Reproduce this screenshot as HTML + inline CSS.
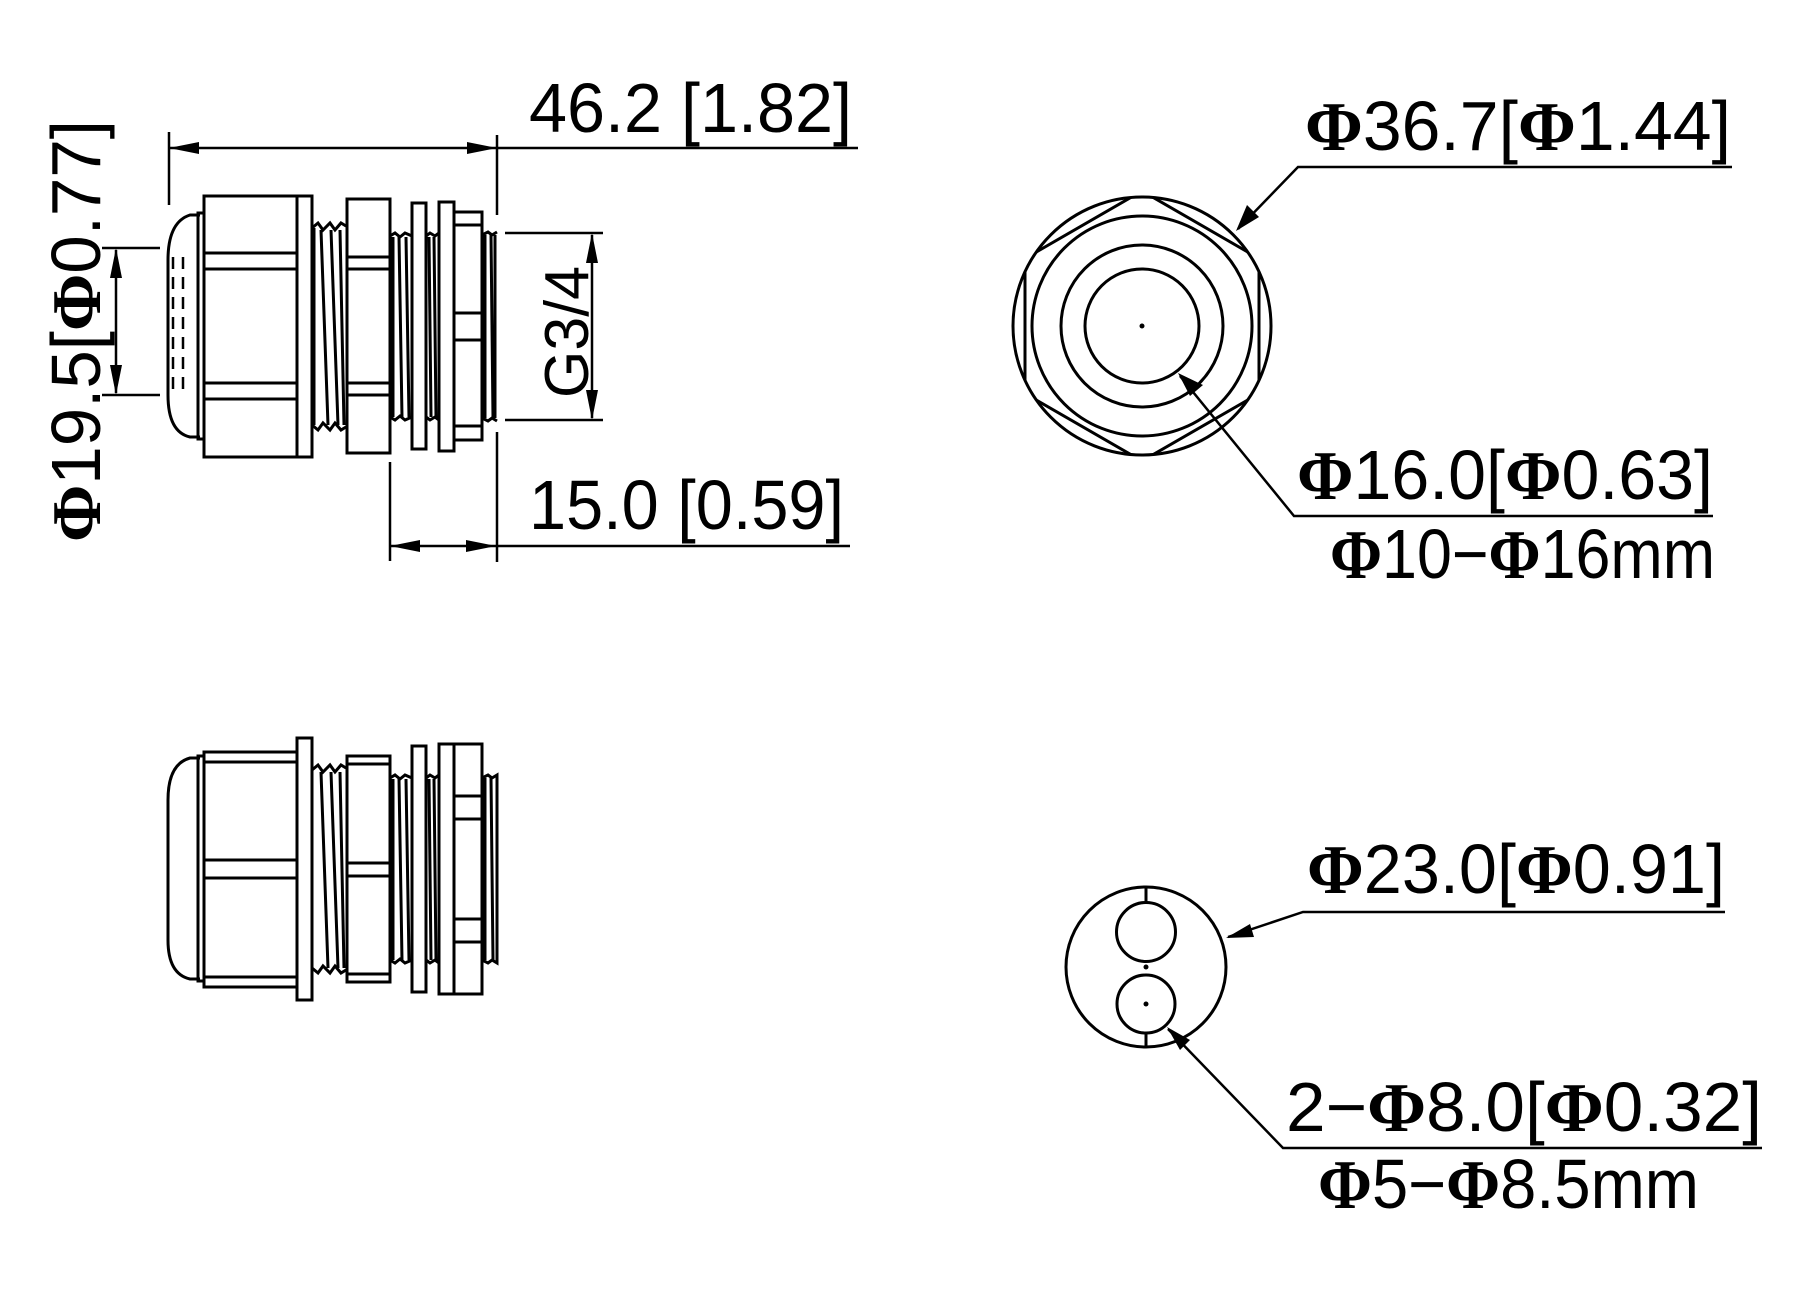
<!DOCTYPE html>
<html><head><meta charset="utf-8"><style>
html,body{margin:0;padding:0;background:#fff;}
svg{display:block;}
.s{font-family:"Liberation Sans",sans-serif;}
.p{font-family:"Liberation Serif",serif;font-weight:bold;}
</style></head><body>
<svg width="1800" height="1300" viewBox="0 0 1800 1300" xmlns="http://www.w3.org/2000/svg">
<defs>
<marker id="a" markerWidth="10" markerHeight="6" refX="10" refY="3" orient="auto" markerUnits="userSpaceOnUse" viewBox="0 0 10 6">
</marker>
<clipPath id="cc"><circle cx="1142" cy="326" r="129"/></clipPath>
</defs>
<g fill="none" stroke="#000" stroke-width="3">
<!-- TOP-LEFT GLAND -->
<path d="M200 215 H190 Q168 222 168 260 V395 Q168 432 190 437 H200"/>
<rect x="198" y="213" width="6" height="226"/>
<rect x="204" y="196" width="108" height="261"/>
<path d="M297 196 V457 M204 253 H297 M204 269 H297 M204 383 H297 M204 399 H297"/>
<path d="M312 228 L318 223 L323 230 L330 223 L335 230 L341 223 L346 226 M312 425 L318 430 L323 423 L330 430 L335 423 L341 430 L346 427 M314 228 V425 M321 230 L328 425 M331 230 L338 425 M340 230 L344 425"/>
<rect x="347" y="199" width="43" height="254"/>
<path d="M347 257 H390 M347 269 H390 M347 383 H390 M347 395 H390"/>
<path d="M390 236 L395 233 L400 237 L405 233 L412 236 M390 417 L395 420 L400 416 L405 420 L412 417 M393 237 V417 M399 237 L402 417 M406 237 L409 417"/>
<rect x="412" y="203" width="14" height="246"/>
<path d="M426 236 L430 233 L435 236 L439 233 M426 417 L430 420 L435 417 L439 420 M429 237 L431 417 M434 237 L436 417"/>
<rect x="439" y="202" width="15" height="249"/>
<rect x="454" y="212" width="28" height="228"/>
<path d="M454 225 H482 M454 313 H482 M454 340 H482 M454 426 H482"/>
<path d="M482 235 L488 232 L492 235 L497 232 M482 418 L488 421 L492 418 L497 421 M485 235 V418 M491 235 L493 418 M495 235 V418"/>
<path d="M173 257 V395 M183 257 V395" stroke-dasharray="12 8" stroke-width="2.5"/>
</g>
<!-- dimensions top-left -->
<g stroke="#000" stroke-width="2.5" fill="none">
<path d="M169 132 V205"/>
<path d="M497 135 V215 M497 432 V562"/>
<path d="M169 148 H858"/>
<path d="M102 248 H160 M102 395 H160"/>
<path d="M116 250 V393"/>
<path d="M505 233 H603 M505 420 H603 M592 235 V418"/>
<path d="M390 462 V561 M390 546 H850"/>
</g>
<g fill="#000">
<polygon points="169,148 199,142 199,154"/>
<polygon points="497,148 467,142 467,154"/>
<polygon points="116,248 110,278 122,278"/>
<polygon points="116,395 110,365 122,365"/>
<polygon points="592,233 586,263 598,263"/>
<polygon points="592,420 586,390 598,390"/>
<polygon points="390,546 420,540 420,552"/>
<polygon points="496,546 466,540 466,552"/>
</g>
<g fill="#000" font-size="70">
<text class="s" x="529" y="132" textLength="323" lengthAdjust="spacingAndGlyphs">46.2 [1.82]</text>
<text class="s" x="529" y="529" textLength="315" lengthAdjust="spacingAndGlyphs">15.0 [0.59]</text>
<text class="s" transform="translate(100,542) rotate(-90)" textLength="422" lengthAdjust="spacingAndGlyphs"><tspan class="p">Φ</tspan>19.5[<tspan class="p">Φ</tspan>0.77]</text>
<text class="s" transform="translate(588,398) rotate(-90)" font-size="62" textLength="132" lengthAdjust="spacingAndGlyphs">G3/4</text>
</g>

<!-- BOTTOM-LEFT GLAND -->
<g fill="none" stroke="#000" stroke-width="3">
<path d="M200 758 H190 Q168 764 168 800 V940 Q168 974 190 979 H200"/>
<rect x="198" y="756" width="6" height="225"/>
<path d="M204 752 H297 V738 H312 V1000 H297 V987 H204 Z M297 752 V987 M204 762 H297 M204 977 H297 M204 860 H297 M204 878 H297"/>
<path d="M312 770 L318 765 L323 772 L330 765 L335 772 L341 765 L346 768 M312 968 L318 973 L323 966 L330 973 L335 966 L341 973 L346 970 M321 772 L328 968 M331 772 L338 968 M340 772 L344 968"/>
<rect x="347" y="756" width="43" height="226"/>
<path d="M347 764 H390 M347 974 H390 M347 863 H390 M347 876 H390"/>
<path d="M390 778 L395 775 L400 779 L405 775 L412 778 M390 960 L395 963 L400 959 L405 963 L412 960 M393 779 V960 M399 779 L402 960 M406 779 L409 960"/>
<rect x="412" y="746" width="14" height="246"/>
<path d="M426 778 L430 775 L435 778 L439 775 M426 960 L430 963 L435 960 L439 963 M429 779 L431 960 M434 779 L436 960"/>
<rect x="439" y="744" width="15" height="250"/>
<rect x="454" y="744" width="28" height="250"/>
<path d="M454 796 H482 M454 819 H482 M454 919 H482 M454 942 H482"/>
<path d="M482 778 L488 775 L492 778 L497 775 V963 L492 960 L488 963 L482 960 M485 778 V960 M491 778 L493 960"/>
</g>

<!-- TOP-RIGHT VIEW -->
<g fill="none" stroke="#000" stroke-width="3">
<circle cx="1142" cy="326" r="129"/>
<polygon clip-path="url(#cc)" points="1142,191 1259,258.5 1259,393.5 1142,461 1025,393.5 1025,258.5"/>
<circle cx="1142" cy="326" r="110"/>
<circle cx="1142" cy="326" r="81"/>
<circle cx="1142" cy="326" r="57"/>
<path d="M1238 229 L1298 167 H1732" stroke-width="2.5"/>
<path d="M1180 376 L1294 516 H1713" stroke-width="2.5"/>
</g>
<circle cx="1142" cy="326" r="2.5" fill="#000"/>
<g fill="#000">
<polygon points="1236,231 1247,205 1259,217"/>
<polygon points="1178,373 1203,385 1190,396"/>
</g>
<g fill="#000" font-size="70">
<text class="s" x="1305" y="150" textLength="426" lengthAdjust="spacingAndGlyphs"><tspan class="p">Φ</tspan>36.7[<tspan class="p">Φ</tspan>1.44]</text>
<text class="s" x="1297" y="499" textLength="416" lengthAdjust="spacingAndGlyphs"><tspan class="p">Φ</tspan>16.0[<tspan class="p">Φ</tspan>0.63]</text>
<text class="s" x="1330" y="578" textLength="385" lengthAdjust="spacingAndGlyphs"><tspan class="p">Φ</tspan>10−<tspan class="p">Φ</tspan>16mm</text>
</g>

<!-- BOTTOM-RIGHT VIEW -->
<g fill="none" stroke="#000" stroke-width="3">
<circle cx="1146" cy="967" r="80"/>
<circle cx="1146" cy="932" r="29.5"/>
<circle cx="1146" cy="1004" r="29"/>
<path d="M1146 887 V902 M1146 1033 V1047"/>
<path d="M1228 937 L1303 912 H1725" stroke-width="2.5"/>
<path d="M1168 1029 L1283 1148 H1762" stroke-width="2.5"/>
</g>
<circle cx="1146" cy="967" r="2.5" fill="#000"/>
<circle cx="1146" cy="1004" r="2.5" fill="#000"/>
<g fill="#000">
<polygon points="1226,938 1250,924 1254,937"/>
<polygon points="1167,1027 1190,1040 1180,1050"/>
</g>
<g fill="#000" font-size="70">
<text class="s" x="1307" y="893" textLength="418" lengthAdjust="spacingAndGlyphs"><tspan class="p">Φ</tspan>23.0[<tspan class="p">Φ</tspan>0.91]</text>
<text class="s" x="1286" y="1131" textLength="476" lengthAdjust="spacingAndGlyphs">2−<tspan class="p">Φ</tspan>8.0[<tspan class="p">Φ</tspan>0.32]</text>
<text class="s" x="1318" y="1208" textLength="381" lengthAdjust="spacingAndGlyphs"><tspan class="p">Φ</tspan>5−<tspan class="p">Φ</tspan>8.5mm</text>
</g>
</svg>
</body></html>
